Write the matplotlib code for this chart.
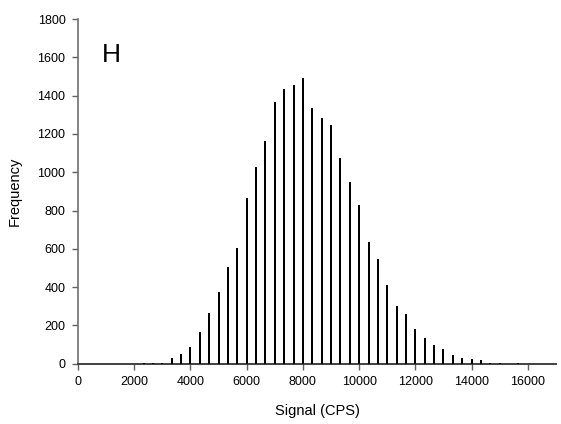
import matplotlib
matplotlib.use("Agg")
import matplotlib.pyplot as plt

plt.rcParams['font.family'] = ['Liberation Sans', 'DejaVu Sans']

# bin centres (CPS) and frequencies
signal = [2333, 2667, 3000, 3333, 3667, 4000, 4333, 4667, 5000, 5333, 5667,
          6000, 6333, 6667, 7000, 7333, 7667, 8000, 8333, 8667, 9000, 9333,
          9667, 10000, 10333, 10667, 11000, 11333, 11667, 12000, 12333, 12667,
          13000, 13333, 13667, 14000, 14333, 14667, 15000, 15333, 15667]
frequency = [2, 5, 6, 30, 52, 89, 168, 264, 375, 503, 606,
             868, 1030, 1161, 1365, 1437, 1456, 1491, 1335, 1281, 1248, 1075,
             951, 831, 637, 548, 412, 300, 260, 182, 135, 98,
             77, 44, 30, 26, 18, 5, 3, 1, 3]
xticks = [0, 2000, 4000, 6000, 8000, 10000, 12000, 14000, 16000]
yticks = [0, 200, 400, 600, 800, 1000, 1200, 1400, 1600, 1800]

fig = plt.figure(figsize=(5.61, 4.24), dpi=100)
ax = fig.add_axes([0.139, 0.142, 0.852, 0.813])

ax.vlines(signal, 0, frequency, colors='black', linewidth=1.44, zorder=3)

ax.set_xlim(0, 17000)
ax.set_ylim(0, 1800)
ax.set_xticks(xticks)
ax.set_yticks(yticks)
ax.tick_params(axis='both', labelsize=9, length=4, width=1, color='#606060',
               direction='out', pad=5)

for s in ['top', 'right']:
    ax.spines[s].set_visible(False)
ax.spines['left'].set_color('#707070')
ax.spines['bottom'].set_color('#404040')
ax.spines['left'].set_linewidth(1.2)
ax.spines['bottom'].set_linewidth(1.4)

ax.set_xlabel('Signal (CPS)', fontsize=10.5, labelpad=11)
ax.set_ylabel('Frequency', fontsize=10.5, labelpad=11)

ax.text(0.05, 0.93, 'H', transform=ax.transAxes, fontsize=19, va='top', ha='left')

fig.savefig('out.png', dpi=100)
